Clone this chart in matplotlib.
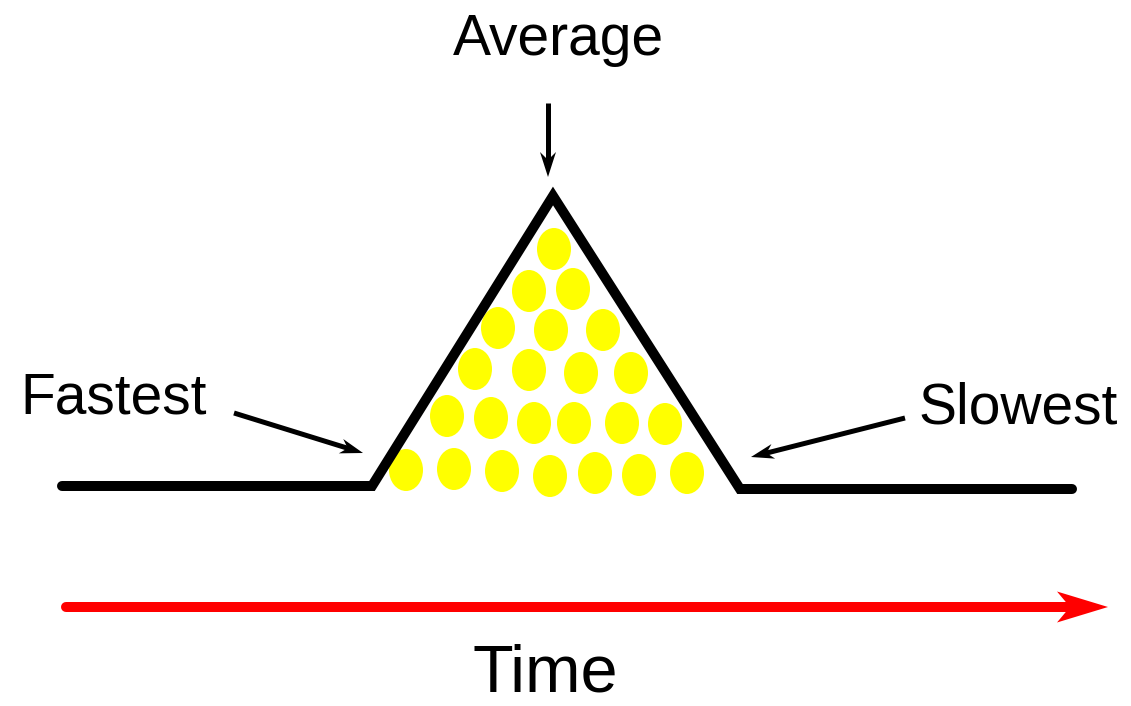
import numpy as np
import matplotlib.pyplot as plt
from matplotlib.patches import Ellipse, Polygon

plt.rcParams['font.family'] = ['Liberation Sans', 'DejaVu Sans']

# profile of the distribution curve (pixel-like coordinates)
curve_x = [62, 372, 553, 740, 1072]
curve_y = [486, 486, 196, 489, 489]

# yellow dots stacked inside the peak
dot_x = [554,
         529, 573,
         498, 551, 603,
         475, 529, 581, 631,
         447, 491, 534, 574, 622, 665,
         406, 454, 502, 550, 595, 639, 687]
dot_y = [249,
         291, 289,
         328, 330, 330,
         369, 370, 373, 373,
         416, 418, 423, 423, 423, 424,
         470, 469, 471, 476, 473, 475, 473]

labels = ['Average', 'Fastest', 'Slowest']
label_x = [558, 114, 1018]
label_y = [40, 398, 408]


def draw_arrow(ax, start, end, color, lw, head_len, head_w, notch, cap='butt'):
    """Straight arrow with a notched (stealth) head."""
    start = np.array(start, float)
    end = np.array(end, float)
    u = (end - start) / np.linalg.norm(end - start)
    n = np.array([-u[1], u[0]])
    back = end - head_len * u
    inner = end - (head_len - notch) * u
    ax.plot([start[0], inner[0] + u[0]], [start[1], inner[1] + u[1]],
            color=color, lw=lw, solid_capstyle=cap)
    head = [end, back + head_w / 2 * n, inner, back - head_w / 2 * n]
    ax.add_patch(Polygon(head, closed=True, color=color, lw=0))


fig = plt.figure(figsize=(11.31, 7.06), dpi=100)
ax = fig.add_axes([0, 0, 1, 1])
ax.set_xlim(0, 1131)
ax.set_ylim(706, 0)
ax.axis('off')

for x, y in zip(dot_x, dot_y):
    ax.add_patch(Ellipse((x, y), 34, 42, color='#ffff00', lw=0))

ax.plot(curve_x, curve_y, color='black', lw=7.2, solid_joinstyle='miter',
        solid_capstyle='round')

for txt, x, y in zip(labels, label_x, label_y):
    ax.text(x, y, txt, fontsize=41, ha='center', va='center')

# pointer arrows
draw_arrow(ax, (548, 103), (548, 177), 'black', 3.6, 25, 16, 8)
draw_arrow(ax, (234, 413), (363, 453), 'black', 3.6, 23, 15, 7)
draw_arrow(ax, (905, 418), (751, 457), 'black', 3.6, 23, 15, 7)

# time axis arrow
draw_arrow(ax, (66, 607), (1108, 607), 'red', 7.2, 51, 31, 13, cap='round')
ax.text(545, 675, 'Time', fontsize=48, ha='center', va='center')

plt.savefig('out.png', dpi=100)
